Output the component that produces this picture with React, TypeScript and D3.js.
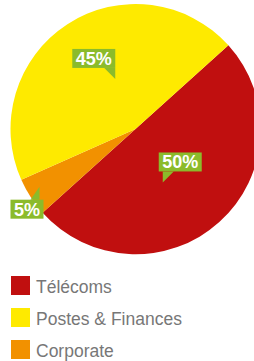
import React from "react";
import * as d3 from "d3";

const categories = ["Télécoms", "Corporate", "Postes & Finances"];
const values = [50, 5, 45];
const labels = ["50%", "5%", "45%"];
const legendOrder = ["Télécoms", "Postes & Finances", "Corporate"];

const colors: Record<string, string> = {
  "Télécoms": "#c00f0f",
  "Corporate": "#f29100",
  "Postes & Finances": "#feea00",
};

// label placement config: radius of pointer tip, angular shift (deg), pointer direction
const labelCfg: Record<string, { r: number; shift: number; kind: string }> = {
  "Télécoms": { r: 60, shift: 15, kind: "downLeft" },
  "Corporate": { r: 112, shift: 2, kind: "up" },
  "Postes & Finances": { r: 54, shift: 11, kind: "downRight" },
};

const W = 254;
const H = 361;
const cx = 135.5;
const cy = 129;
const R = 125;
const GREEN = "#8bbb2b";
const FONT = "'Liberation Sans', Arial, Helvetica, sans-serif";

function measure(text: string, font: string): number {
  const c = document.createElement("canvas");
  const ctx = c.getContext("2d");
  if (!ctx) return text.length * 10;
  ctx.font = font;
  return ctx.measureText(text).width;
}

export default function App() {
  const start = (48 * Math.PI) / 180;
  const pie = d3
    .pie<number>()
    .sort(null)
    .startAngle(start)
    .endAngle(start + 2 * Math.PI);
  const arcs = pie(values);
  const arc = d3.arc<d3.PieArcDatum<number>>().innerRadius(0).outerRadius(R);

  const boxH = 19;
  const ptrW = 10;
  const ptrH = 11;

  return (
    <svg
      width={W}
      height={H}
      style={{ position: "absolute", left: 0, top: 0, background: "#fff" }}
    >
      <g transform={`translate(${cx},${cy})`}>
        {arcs.map((a, i) => (
          <path key={i} d={arc(a) || ""} fill={colors[categories[i]]} />
        ))}
      </g>
      {arcs.map((a, i) => {
        const cat = categories[i];
        const cfg = labelCfg[cat];
        const mid = (a.startAngle + a.endAngle) / 2 + (cfg.shift * Math.PI) / 180;
        const tx = cx + cfg.r * Math.sin(mid);
        const ty = cy - cfg.r * Math.cos(mid);
        const tw = measure(labels[i], `bold 18px ${FONT}`);
        const bw = Math.round(tw + 7);
        let bx = 0,
          by = 0,
          ptr = "";
        if (cfg.kind === "downRight") {
          bx = tx - bw;
          by = ty - ptrH - boxH;
          ptr = `M${tx - ptrW - 1},${by + boxH} L${tx},${by + boxH} L${tx},${ty} Z`;
        } else if (cfg.kind === "downLeft") {
          bx = tx - 4;
          by = ty - ptrH - boxH;
          ptr = `M${tx},${by + boxH} L${tx + ptrW + 1},${by + boxH} L${tx},${ty} Z`;
        } else {
          bx = tx + 4 - bw;
          by = ty + 13;
          ptr = `M${tx},${ty} L${tx},${by} L${tx - 9},${by} Z`;
        }
        return (
          <g key={`l${i}`}>
            <rect x={bx} y={by} width={bw} height={boxH} fill={GREEN} />
            <path d={ptr} fill={GREEN} />
            <text
              x={bx + bw / 2}
              y={by + 16}
              textAnchor="middle"
              fill="#fff"
              fontFamily={FONT}
              fontWeight="bold"
              fontSize={18}
            >
              {labels[i]}
            </text>
          </g>
        );
      })}
      {legendOrder.map((cat, i) => (
        <g key={cat} transform={`translate(11,${276 + i * 32})`}>
          <rect width={19} height={19} fill={colors[cat]} />
          <text
            x={25}
            y={16.7}
            fill="#777"
            fontFamily={FONT}
            fontSize={17.5}
          >
            {cat}
          </text>
        </g>
      ))}
    </svg>
  );
}
